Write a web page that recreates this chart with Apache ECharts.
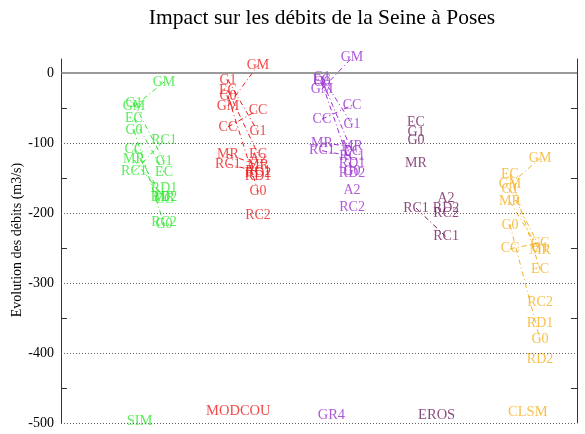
<!DOCTYPE html>
<html>
<head>
<meta charset="utf-8">
<script src="https://cdn.jsdelivr.net/npm/echarts@6/dist/echarts.min.js"></script>
<style>html,body{margin:0;padding:0;background:#fff}#c{width:585px;height:434px}</style>
</head>
<body>
<div id="c"></div>
<script>
// Scenario names (same order in every value array)
const scenarios = ['GM','G1','G0','EC','CC','MR','RC1','RC2','RD1','RD2','A2'];
const models = ['SIM','MODCOU','GR4','EROS','CLSM'];
const modelColors = ['#33e833','#ee1c1c','#9b30d0','#6e1b5c','#f5b226'];

// Left column (first method) and right column (second method), m3/s
const simLeft     = [-48,-43,-82,-65,-109,-124,-141,null,null,null,null];
const simRight    = [-13,-126,-216,-142,-180,-178,-96,-214,-165,-177,null];
const modcouLeft  = [-47,-10,-33,-25,-77,-116,-130,null,null,null,null];
const modcouRight = [11,-84,-169,-116,-53,-132,-141,-203,-148,-143,-123];
const gr4Left     = [-23,-6,-14,-10,-66,-100,-111,null,null,null,null];
const gr4Right    = [22,-73,-140,-112,-46,-105,-119,-192,-129,-143,-168];
const erosLeft    = [null,-85,-96,-71,null,-129,-193,null,null,null,null];
const erosRight   = [null,null,null,null,null,null,-234,-200,null,-193,-179];
const clsmLeft    = [-159,-166,-217,-145,-251,-184,null,null,null,null,null];
const clsmRight   = [-122,-250,-381,-281,-243,-254,null,-327,-358,-409,null];

// Model name labels at the bottom
const groupLabelX = [0.9,1.95,2.94,4.06,5.03];
const groupLabelY = [-498,-483,-489,-489,-484];

// Y axis ticks
const yLabels = [-500,-400,-300,-200,-100,0];
const yMinorTicks = [-450,-350,-250,-150,-50];
const gridValues = [-500,-400,-300,-200,-100];

const leftVals = [simLeft, modcouLeft, gr4Left, erosLeft, clsmLeft];
const rightVals = [simRight, modcouRight, gr4Right, erosRight, clsmRight];
const OFF = 0.16;
const FONT = 'Liberation Serif';

const series = [];
models.forEach((m, i) => {
  const cx = i + 1;
  const col = modelColors[i];
  const pts = [];
  const segs = [];
  scenarios.forEach((s, k) => {
    const l = leftVals[i][k], r = rightVals[i][k];
    if (l !== null) pts.push([cx - OFF, l, s]);
    if (r !== null) pts.push([cx + OFF, r, s]);
    if (l !== null && r !== null) segs.push({coords: [[cx - OFF, l], [cx + OFF, r]]});
  });
  series.push({
    type: 'lines', coordinateSystem: 'cartesian2d', polyline: false, silent: true,
    z: 2, animation: false,
    lineStyle: {color: col, width: 1, type: [5, 3, 1, 3], opacity: 1},
    data: segs
  });
  series.push({
    type: 'scatter', z: 3, animation: false, clip: false, silent: true,
    symbol: 'circle', symbolSize: 1, itemStyle: {color: 'rgba(0,0,0,0)'},
    label: {show: true, position: 'inside', color: col, fontFamily: FONT, fontSize: 14,
            formatter: p => p.value[2]},
    data: pts
  });
  series.push({
    type: 'scatter', z: 3, animation: false, clip: false, silent: true,
    symbol: 'circle', symbolSize: 1, itemStyle: {color: 'rgba(0,0,0,0)'},
    label: {show: true, position: 'inside', color: col, fontFamily: FONT, fontSize: 14.5,
            formatter: p => p.value[2]},
    data: [[groupLabelX[i], groupLabelY[i], m]]
  });
});

// grid lines
series.push({
  type: 'line', data: [], silent: true, animation: false,
  markLine: {
    symbol: ['none','none'], silent: true, animation: false, label: {show: false},
    data: gridValues.map(v => ({yAxis: v, lineStyle: {color: '#666', width: 1, type: [1, 2]}}))
      .concat([{yAxis: 0, lineStyle: {color: '#777', width: 1.5, type: 'solid'}}])
  }
});

const chart = echarts.init(document.getElementById('c'), null, {renderer: 'canvas'});
chart.setOption({
  backgroundColor: '#fff',
  animation: false,
  graphic: [{
    type: 'text', x: 322, y: 18, silent: true,
    style: {text: 'Impact sur les débits de la Seine à Poses', align: 'center', verticalAlign: 'middle',
            font: '21.5px "Liberation Serif"', fill: '#000'}
  }, {
    type: 'text', x: 17, y: 240, rotation: Math.PI / 2, silent: true,
    style: {text: 'Evolution des débits (m3/s)', align: 'center', verticalAlign: 'middle',
            font: '14px "Liberation Serif"', fill: '#000'}
  }],
  grid: {left: 61, right: 8, top: 59, bottom: 11, containLabel: false, outerBoundsMode: 'none'},
  xAxis: {type: 'value', min: 0.064, max: 5.553, show: false},
  yAxis: [{
    type: 'value', min: -500, max: 20, position: 'left',
    axisLine: {show: true, lineStyle: {color: '#333', width: 1}},
    axisTick: {show: true, inside: true, length: 6, customValues: yMinorTicks, lineStyle: {color: '#333'}},
    axisLabel: {show: true, customValues: yLabels, margin: 7, fontFamily: FONT, fontSize: 14, color: '#000'},
    splitLine: {show: false}
  }, {
    type: 'value', min: -500, max: 20, position: 'right',
    axisLine: {show: true, onZero: false, lineStyle: {color: '#333', width: 1}},
    axisTick: {show: true, inside: true, length: 6, customValues: yMinorTicks, lineStyle: {color: '#333'}},
    axisLabel: {show: false},
    splitLine: {show: false}
  }],
  series: series
});
</script>
</body>
</html>
